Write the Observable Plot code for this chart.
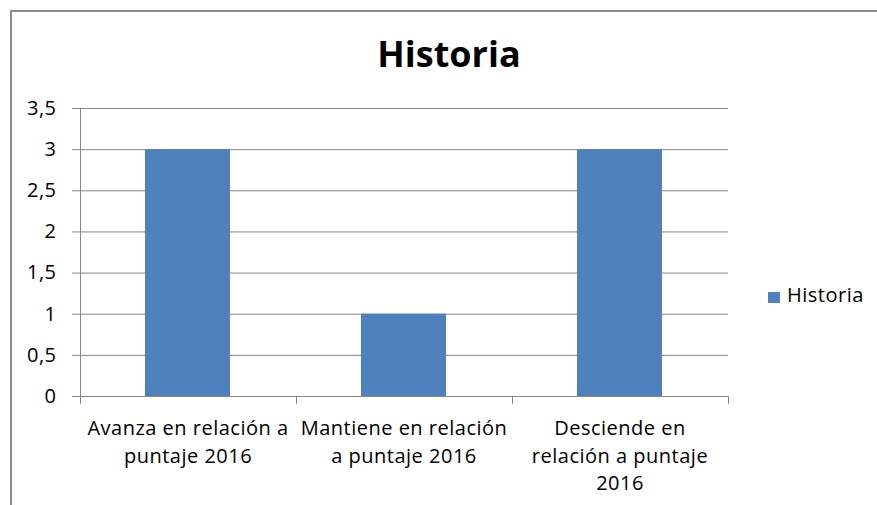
<!DOCTYPE html>
<html>
<head>
<meta charset="utf-8">
<script src="https://cdn.jsdelivr.net/npm/d3@7"></script>
<script src="https://cdn.jsdelivr.net/npm/@observablehq/plot@0.6"></script>
<style>
  html, body { margin: 0; padding: 0; background: #fff; overflow: hidden; }
  #wrap { position: relative; width: 877px; height: 505px; overflow: hidden; font-family: "Open Sans", sans-serif; }
  #border { position: absolute; left: 10px; top: 10px; width: 900px; height: 540px; border: 2px solid #8c8c8c; box-sizing: border-box; }
  #chart { position: absolute; left: 0; top: 0; }
  #chart svg text { letter-spacing: 0.5px; }
  #title { position: absolute; left: 0; width: 898px; top: 29px; text-align: center; font-weight: bold; font-size: 36px; line-height: 50px; color: #000; }
  #legend { position: absolute; left: 768px; top: 283px; font-size: 20px; line-height: 24px; color: #000; letter-spacing: 0.5px; }
  #legend .sw { position: absolute; left: 0; top: 9px; width: 12px; height: 11px; background: #4F81BD; }
  #legend .lbl { position: absolute; left: 19px; top: 0; white-space: nowrap; }
</style>
</head>
<body>
<div id="wrap">
  <div id="border"></div>
  <div id="chart"></div>
  <div id="title">Historia</div>
  <div id="legend"><span class="sw"></span><span class="lbl">Historia</span></div>
</div>
<script>
const categories = [
  "Avanza en relación a puntaje 2016",
  "Mantiene en relación a puntaje 2016",
  "Desciende en relación a puntaje 2016"
];
const xTickLabels = [
  "Avanza en relación a\npuntaje 2016",
  "Mantiene en relación\na puntaje 2016",
  "Desciende en\nrelación a puntaje\n2016"
];
const values = [3, 1, 3];
const yTicks = [0, 0.5, 1, 1.5, 2, 2.5, 3, 3.5];
const seriesName = "Historia";

const data = categories.map((c, i) => ({category: c, value: values[i]}));
const gray = "#868686";

function axisFrame(index, scales, values, dims) {
  const g = d3.create("svg:g");
  const y0 = scales.y(0);
  const left = dims.marginLeft;
  const right = dims.width - dims.marginRight;
  const n = categories.length;
  // left axis line
  g.append("line")
    .attr("x1", left + 0.5).attr("x2", left + 0.5)
    .attr("y1", dims.marginTop).attr("y2", y0)
    .attr("stroke", gray);
  // category boundary ticks
  for (let i = 0; i <= n; i++) {
    const xb = Math.round(left + i * (right - left) / n) + 0.5;
    g.append("line")
      .attr("x1", xb).attr("x2", xb)
      .attr("y1", y0).attr("y2", y0 + 8)
      .attr("stroke", gray);
  }
  return g.node();
}

const chart = Plot.plot({
  width: 877,
  height: 505,
  marginLeft: 80,
  marginRight: 149,
  marginTop: 108,
  marginBottom: 109,
  style: {fontFamily: "Open Sans", fontSize: "20px", color: "#000", background: "transparent"},
  x: {domain: categories, paddingInner: 0.606, paddingOuter: 0.303, label: null},
  y: {domain: [0, 3.5], label: null},
  marks: [
    Plot.gridY(yTicks, {stroke: gray, strokeOpacity: 1}),
    Plot.barY(data, {x: "category", y: "value", fill: "#4F81BD"}),
    Plot.ruleY([0], {stroke: gray}),
    Plot.axisY({
      ticks: yTicks,
      tickFormat: d => String(d).replace(".", ","),
      tickSize: 8,
      tickPadding: 16,
      stroke: gray,
      fill: "#000",
      label: null
    }),
    Plot.axisX({
      tickFormat: d => xTickLabels[categories.indexOf(d)],
      tickSize: 0,
      tickPadding: 19,
      lineHeight: 1.38,
      fill: "#000",
      label: null
    }),
    axisFrame
  ]
});
document.getElementById("chart").appendChild(chart);
</script>
</body>
</html>
